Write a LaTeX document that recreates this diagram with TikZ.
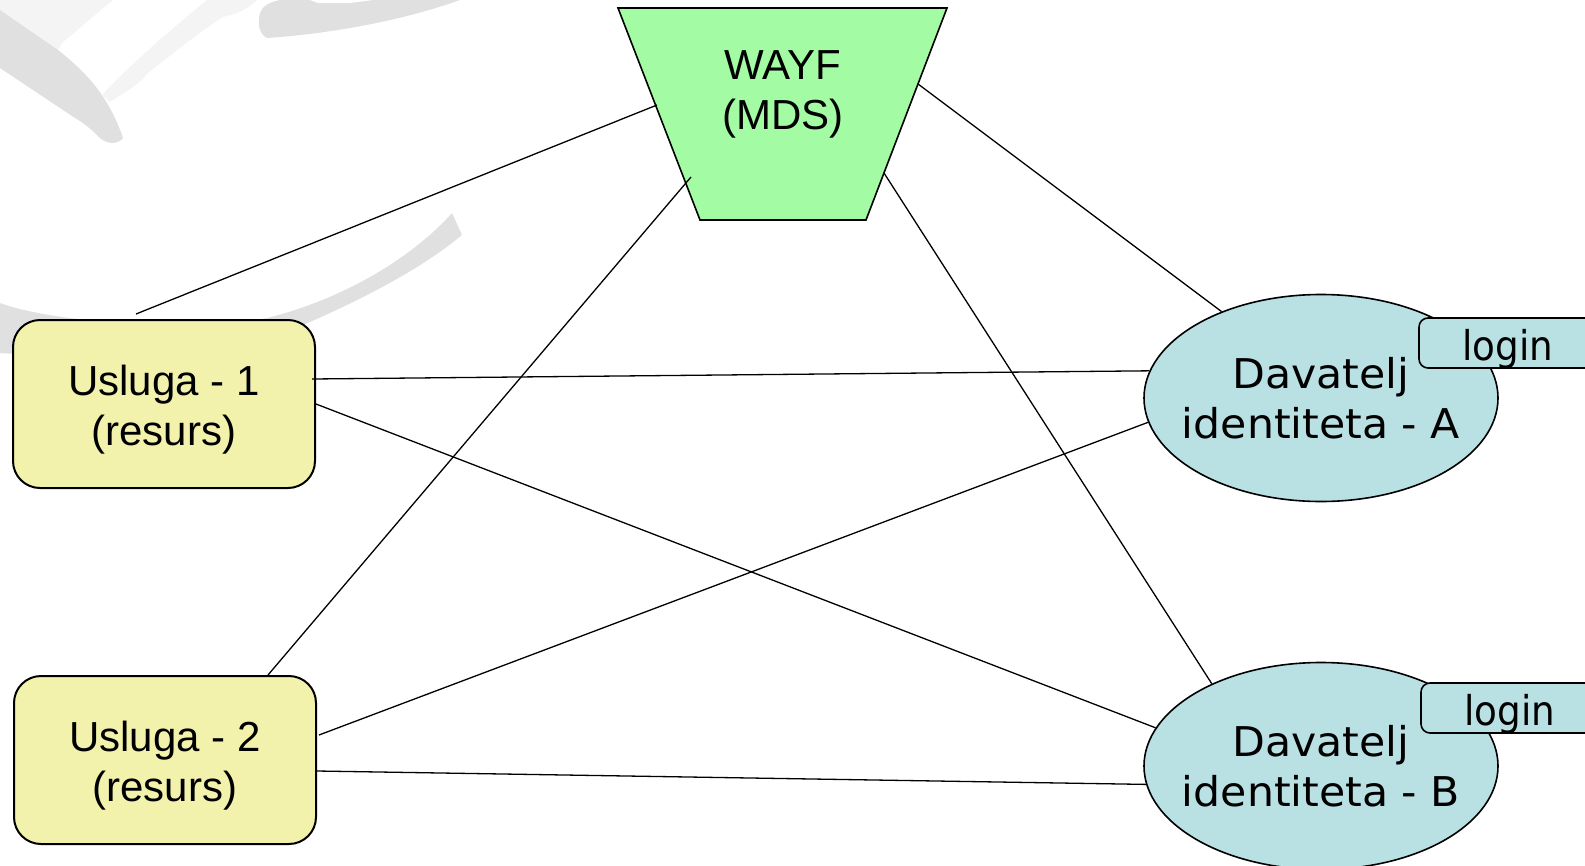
\documentclass[tikz,border=0pt]{standalone}
\usepackage{fontspec}
\setmainfont{Liberation Sans}
\newfontfamily\verdana[FakeStretch=1.04]{DejaVu Sans}
\newfontfamily\loginfont[FakeStretch=0.91]{DejaVu Sans}
\usetikzlibrary{shapes.geometric}
\definecolor{wayfgreen}{HTML}{A3FBA3}
\definecolor{uslyellow}{HTML}{F2F2AC}
\definecolor{idpblue}{HTML}{B9E0E3}
\definecolor{markdark}{HTML}{E0E0E0}
\definecolor{marklight}{HTML}{F4F4F4}
\newcommand{\topgap}{\rule{0pt}{41pt}}
\tikzset{
  wayfshape/.style={draw, fill=wayfgreen, line width=1.6pt},
  wayftext/.style={align=center, font=\fontsize{42}{50}\selectfont},
  usluga/.style={draw, fill=uslyellow, line width=2pt, rounded corners=27pt,
    minimum width=302pt, minimum height=168pt, align=center,
    font=\fontsize{42}{50}\selectfont},
  davatelj/.style={ellipse, draw, fill=idpblue, line width=1.6pt,
    minimum width=354pt, minimum height=207pt, inner xsep=-20pt, inner ysep=0pt,
    align=center, font=\verdana\fontsize{41}{50}\selectfont},
  loginbox/.style={draw, fill=idpblue, line width=1.6pt, rounded corners=9pt,
    minimum width=178pt, minimum height=50pt, inner sep=0pt,
    text height=34pt, text depth=0pt, font=\loginfont\fontsize{41}{50}\selectfont},
  veza/.style={line width=1.3pt}
}
\begin{document}
\begin{tikzpicture}[x=1pt,y=-1pt]
  \clip (0,0) rectangle (1585,865);

  % watermark in the corner
  \fill[marklight] (0,0) -- (113,0) -- (62,43) -- (58,50) -- (0,10) -- cycle;
  \fill[markdark] (0,10) -- (58,50) .. controls (90,75) and (110,100) .. (123,138)
    .. controls (118,145) and (105,145) .. (97,135)
    .. controls (90,128) and (82,122) .. (75,118) -- (0,68) -- cycle;
  \fill[marklight] (102,95) .. controls (130,65) and (170,30) .. (207,0) -- (257,0)
    .. controls (245,12) and (232,15) .. (223,17)
    .. controls (195,35) and (165,60) .. (148,73)
    .. controls (140,84) and (125,92) .. (110,102) -- cycle;
  \fill[markdark] (260,13) .. controls (262,6) and (270,2) .. (280,0) -- (460,0)
    .. controls (410,18) and (340,33) .. (267,38)
    .. controls (260,35) and (257,25) .. (260,13) -- cycle;
  \fill[white] (310,0) -- (318,3) -- (350,3) -- (373,0) -- cycle;
  \fill[markdark] (0,303) .. controls (60,325) and (200,330) .. (267,318)
    .. controls (340,300) and (410,260) .. (452,213) -- (462,235)
    .. controls (420,270) and (360,300) .. (310,322)
    .. controls (250,350) and (100,360) .. (0,353) -- cycle;

  % nodes
  \filldraw[wayfshape] (618,8) -- (947,8) -- (866,220) -- (700,220) -- cycle;
  \node[wayftext] (wayf) at (783,94) {WAYF\\(MDS)};
  \node[usluga] (u1) at (164,404) {\topgap Usluga - 1\\(resurs)};
  \node[usluga] (u2) at (165,760) {\topgap Usluga - 2\\(resurs)};
  \node[davatelj] (idpA) at (1321,398) {Davatelj\\identiteta - A};
  \node[davatelj] (idpB) at (1321,766) {Davatelj\\identiteta - B};
  \node[loginbox] (loginA) at (1508,343) {login};
  \node[loginbox] (loginB) at (1510,708) {login};

  % connectors
  \draw[veza] ([shift={(-126pt,-11pt)}]wayf.center) -- ([shift={(-28pt,5pt)}]u1.north);
  \draw[veza] ([shift={(-92pt,-83pt)}]wayf.center) -- ([xshift=103pt]u2.north);
  \draw[veza] ([shift={(135pt,10pt)}]wayf.center) -- (idpA.139);
  \draw[veza] ([shift={(101pt,-79pt)}]wayf.center) -- (idpB.143);
  \draw[veza] ([shift={(-4pt,25pt)}]u1.east) -- (idpA.171);
  \draw[veza] (u1.east) -- (idpB.167);
  \draw[veza] ([shift={(2pt,25pt)}]u2.east) -- (idpA.188);
  \draw[veza] ([yshift=-11pt]u2.east) -- (idpB.186);
\end{tikzpicture}
\end{document}
